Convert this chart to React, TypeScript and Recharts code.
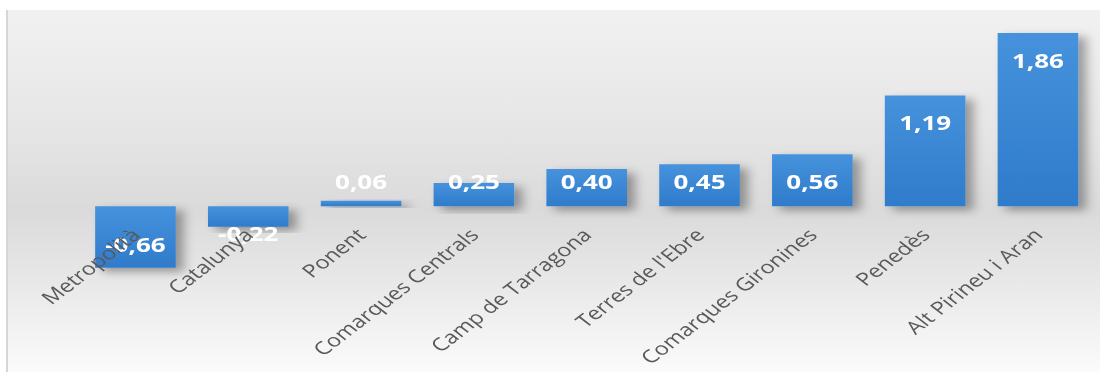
import React from 'react'
import { BarChart, Bar, XAxis, YAxis, LabelList } from 'recharts'

const categories = [
  'Metropolità',
  'Catalunya',
  'Ponent',
  'Comarques Centrals',
  'Camp de Tarragona',
  "Terres de l'Ebre",
  'Comarques Gironines',
  'Penedès',
  'Alt Pirineu i Aran',
]
const values = [-0.66, -0.22, 0.06, 0.25, 0.4, 0.45, 0.56, 1.19, 1.86]
const yDomain = [-1.5, 2]

const data = categories.map((name, i) => ({ name, value: values[i] }))

const fmt = (v: number) => v.toFixed(2).replace('.', ',')

// image is stretched horizontally in the original, so we draw narrow and scale
const STRETCH = 1.3
const OUTER_W = 1094
const OUTER_H = 362
const INNER_W = Math.round(OUTER_W / STRETCH)

const barBox = (p: any) => {
  const x = Number(p.x)
  const y = Number(p.y)
  const w = Number(p.width)
  const h = Number(p.height)
  return { cx: x + w / 2, top: Math.min(y, y + h), bottom: Math.max(y, y + h) }
}

const ValueLabel = (props: any) => {
  const v = Number(props.value)
  const { cx, top, bottom } = barBox(props)
  // Excel style "inside end", kept clear of the axis
  const cy = v >= 0 ? Math.min(top + 27, bottom - 25) : Math.max(bottom - 24, top + 27)
  return (
    <text
      x={cx}
      y={cy}
      textAnchor="middle"
      dominantBaseline="central"
      fill="#ffffff"
      fontWeight="bold"
      fontSize={20}
      fontFamily="'Open Sans', sans-serif"
    >
      {fmt(v)}
    </text>
  )
}

const CategoryLabel = (props: any) => {
  const v = values[props.index] ?? 0
  const { cx, top, bottom } = barBox(props)
  const zero = v >= 0 ? bottom : top
  const ax = cx
  const ay = zero + 25
  return (
    <text
      x={ax}
      y={ay}
      transform={`rotate(-45, ${ax}, ${ay})`}
      textAnchor="end"
      dominantBaseline="central"
      fill="#595959"
      fontSize={18}
      fontFamily="'Open Sans', sans-serif"
    >
      {props.value}
    </text>
  )
}

export default function App() {
  return (
    <div
      style={{
        position: 'absolute',
        left: 6,
        top: 10,
        width: OUTER_W,
        height: OUTER_H,
        overflow: 'hidden',
        background: 'linear-gradient(to bottom, #f1f1f1 0%, #e5e5e5 35%, #dadada 55%, #e8e8e8 75%, #fbfbfb 100%)',
        boxShadow: 'inset 2px 0 0 #d6d6d6',
      }}
    >
      <div style={{ width: INNER_W, height: OUTER_H, transform: `scaleX(${STRETCH})`, transformOrigin: '0 0' }}>
        <BarChart
          width={INNER_W}
          height={OUTER_H}
          data={data}
          margin={{ top: 10, right: 5, left: 56, bottom: 26 }}
          barCategoryGap="14.5%"
        >
          <defs>
            <linearGradient id="barGrad" x1="0" y1="0" x2="0" y2="1">
              <stop offset="0%" stopColor="#4692dc" />
              <stop offset="100%" stopColor="#2f7bcb" />
            </linearGradient>
            <filter id="barShadow" x="-20%" y="-20%" width="150%" height="150%">
              <feDropShadow dx={6} dy={4} stdDeviation={4} floodColor="#000" floodOpacity={0.35} />
            </filter>
          </defs>
          <XAxis dataKey="name" hide />
          <YAxis hide domain={yDomain} />
          <Bar dataKey="value" fill="url(#barGrad)" filter="url(#barShadow)" isAnimationActive={false}>
            <LabelList dataKey="value" content={ValueLabel} />
            <LabelList dataKey="name" content={CategoryLabel} />
          </Bar>
        </BarChart>
      </div>
    </div>
  )
}
